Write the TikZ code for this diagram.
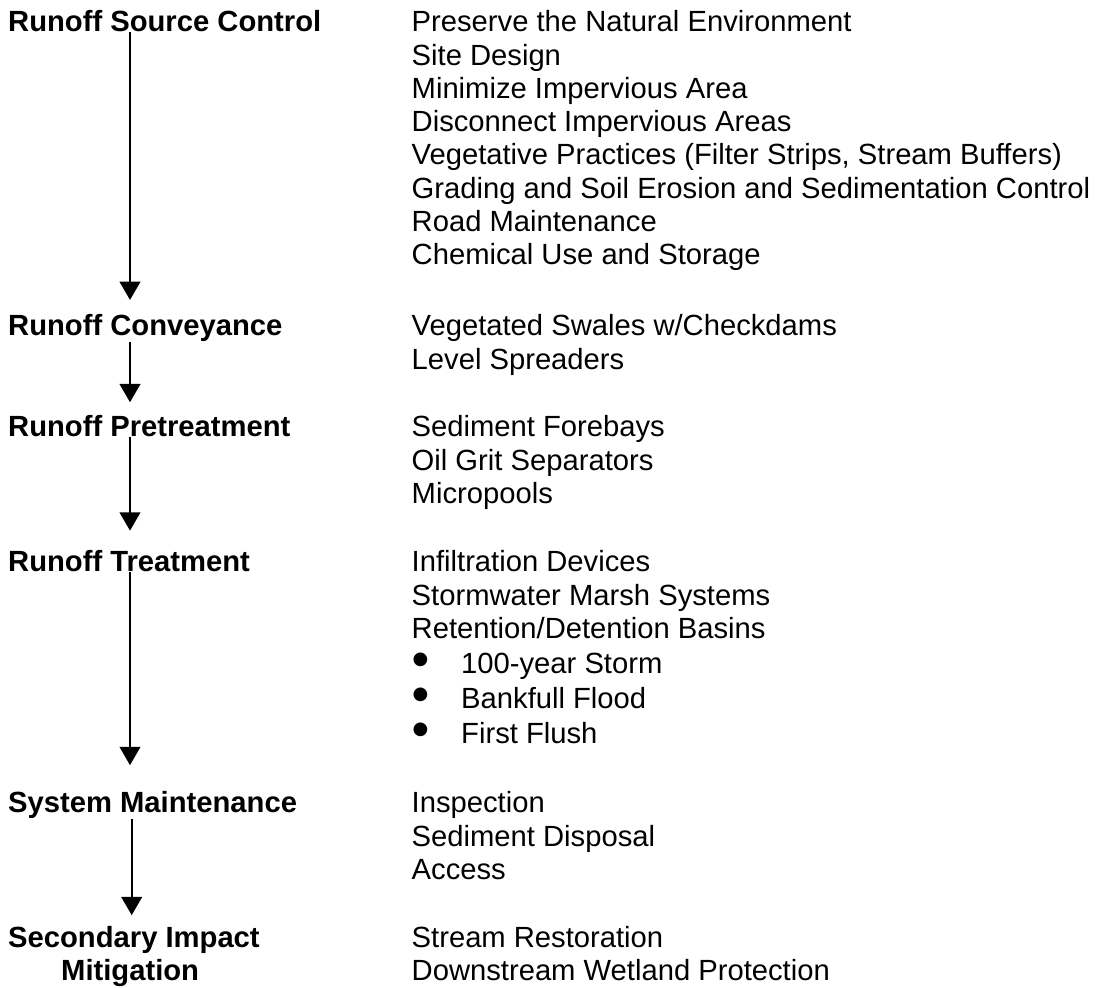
\documentclass[tikz,border=0pt]{standalone}
\usepackage{fontspec}
\setmainfont{Liberation Sans}
\newfontfamily\dejavu{DejaVu Sans}
\usetikzlibrary{arrows.meta}
\begin{document}
\begin{tikzpicture}[x=1pt,y=-1pt,
  lbl/.style={anchor=base west,inner sep=0pt,font=\fontsize{29.2}{33.3}\selectfont\bfseries},
  itm/.style={anchor=base west,inner sep=0pt,font=\fontsize{29.2}{33.3}\selectfont},
  bul/.style={anchor=base west,inner sep=0pt,font=\dejavu\fontsize{18}{18}\selectfont},
  flow/.style={line width=1.8pt,-{Triangle[width=20.7pt,length=18.3pt]}}]
\useasboundingbox[fill=white] (0,0) rectangle (1104,988);
\coordinate (ax) at (130,0);
\coordinate (axb) at (131.7,0);
% left column
\node[lbl] (rsc) at (8,31.7) {Runoff Source Control};
\node[lbl] (rcv) at (8,335.7) {Runoff Conveyance};
\node[lbl] (rpt) at (8,436.7) {Runoff Pretreatment};
\node[lbl] (rtr) at (8,571.7) {Runoff Treatment};
\node[lbl] (sm)  at (8,812.7) {System Maintenance};
\node[lbl] (sec) at (8,947) {Secondary Impact};
\node[lbl] (mit) at (61,980.3) {Mitigation};
% right column
\node[itm] (a1) at (411.5,31.7) {Preserve the Natural Environment};
\node[itm] (a2) at (411.5,65.0) {Site Design};
\node[itm] (a3) at (411.5,98.3) {Minimize Impervious Area};
\node[itm] (a4) at (411.5,131.6) {Disconnect Impervious Areas};
\node[itm] (a5) at (411.5,164.9) {Vegetative Practices (Filter Strips, Stream Buffers)};
\node[itm] (a6) at (411.5,198.2) {Grading and Soil Erosion and Sedimentation Control};
\node[itm] (a7) at (411.5,231.5) {Road Maintenance};
\node[itm] (a8) at (411.5,264.8) {Chemical Use and Storage};
\node[itm] (b1) at (411.5,335.7) {Vegetated Swales w/Checkdams};
\node[itm] (b2) at (411.5,369.0) {Level Spreaders};
\node[itm] (c1) at (411.5,436.7) {Sediment Forebays};
\node[itm] (c2) at (411.5,470.0) {Oil Grit Separators};
\node[itm] (c3) at (411.5,503.3) {Micropools};
\node[itm] (d1) at (411.5,571.7) {Infiltration Devices};
\node[itm] (d2) at (411.5,605.0) {Stormwater Marsh Systems};
\node[itm] (d3) at (411.5,638.3) {Retention/Detention Basins};
\node[bul] (e1b) at (412.3,664.3) {●};
\node[bul] (e2b) at (412.3,699.3) {●};
\node[bul] (e3b) at (412.3,734.3) {●};
\node[itm] (e1) at (461,673.3) {100-year Storm};
\node[itm] (e2) at (461,708.3) {Bankfull Flood};
\node[itm] (e3) at (461,743.3) {First Flush};
\node[itm] (f1) at (411.5,812.7) {Inspection};
\node[itm] (f2) at (411.5,846.0) {Sediment Disposal};
\node[itm] (f3) at (411.5,879.3) {Access};
\node[itm] (g1) at (411.5,947) {Stream Restoration};
\node[itm] (g2) at (411.5,980.3) {Downstream Wetland Protection};
% arrows
\draw[flow,shorten >=14.4pt] (rsc.south -| ax) -- (rcv.north -| ax);
\draw[flow,shorten >=13.1pt] (rcv.south -| ax) -- (rpt.north -| ax);
\draw[flow,shorten >=19.7pt] (rpt.south -| ax) -- (rtr.north -| ax);
\draw[flow,shorten >=26.2pt] (rtr.south -| ax) -- (sm.north -| ax);
\draw[flow,shorten >=10.5pt] (sm.south -| axb) -- (sec.north -| axb);
\end{tikzpicture}
\end{document}
